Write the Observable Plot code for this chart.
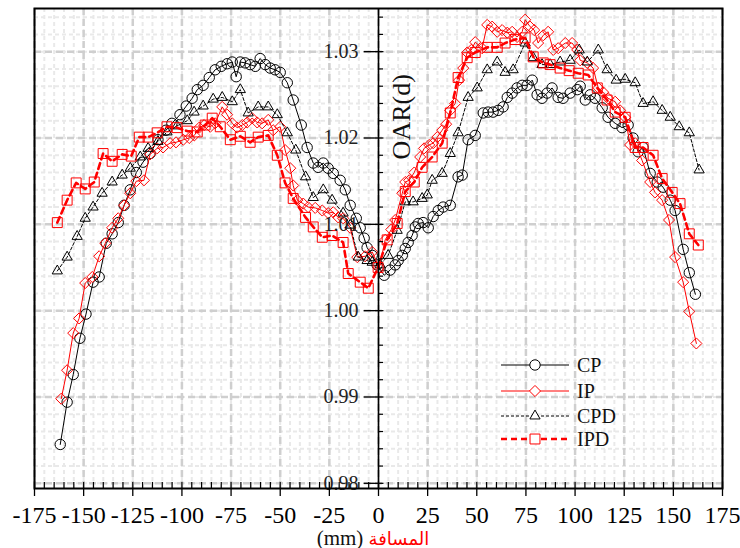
<!DOCTYPE html>
<html><head><meta charset="utf-8">
<script src="https://cdn.jsdelivr.net/npm/d3@7"></script>
<script src="https://cdn.jsdelivr.net/npm/@observablehq/plot@0.6"></script>
<style>body{margin:0;background:#fff} svg{display:block}</style>
</head><body><div id="chart"></div>
<script>
// ---- tick values ----
const xMajorTicks = [-175,-150,-125,-100,-75,-50,-25,0,25,50,75,100,125,150,175];
const yMajorTicks = [0.98,0.99,1.00,1.01,1.02,1.03];
const yDomain = [0.9794, 1.035];
const seriesNames = ["CP","IP","CPD","IPD"];

// ---- CP ----
const cpX = [-161.9,-158.4,-155.3,-151.9,-148.8,-145.2,-142.1,-138.5,-135.5,
-132.4,-129.4,-126.3,-123.2,-119.8,-116.2,-112.2,-108.1,-105.1,-101.0,
-97.8,-94.8,-92.2,-89.2,-86.1,-83.1,-80.0,-77.0,-74.4,-72.4,
-70.3,-67.8,-65.3,-62.7,-60.2,-57.6,-55.1,-52.6,-50.0,-46.4,
-43.4,-39.3,-36.3,-33.2,-30.7,-28.1,-25.6,-23.0,-19.5,-16.9,
-14.4,-11.3,-9.3,-7.3,-5.8,-3.2,-0.7,2.9,5.9,8.5,
10.0,12.1,13.6,15.1,17.1,18.7,20.2,22.7,25.3,27.8,
30.4,32.9,36.5,40.5,42.6,45.6,49.2,53.3,55.8,58.3,
60.9,63.4,65.5,68.0,70.5,73.1,75.6,78.2,80.7,83.2,
85.8,88.3,91.4,93.9,97.5,101.1,102.6,105.2,107.7,110.2,
113.8,116.8,120.4,123.9,127.0,129.5,132.1,134.6,138.2,141.8,
144.8,148.4,150.9,155.0,158.1,161.2];
const cpY = [0.9845,0.9894,0.9926,0.9968,0.9996,1.0033,1.0039,1.0078,1.0089,
1.0102,1.0122,1.0140,1.0160,1.0172,1.0182,1.0198,1.0209,1.0217,1.0227,
1.0237,1.0246,1.0256,1.0261,1.0270,1.0279,1.0283,1.0286,1.0288,1.0271,
1.0288,1.0287,1.0285,1.0283,1.0292,1.0285,1.0281,1.0279,1.0276,1.0264,
1.0244,1.0215,1.0189,1.0171,1.0166,1.0171,1.0165,1.0159,1.0151,1.0140,
1.0122,1.0107,1.0096,1.0084,1.0073,1.0064,1.0053,1.0041,1.0047,1.0053,
1.0058,1.0064,1.0072,1.0079,1.0087,1.0097,1.0101,1.0102,1.0096,1.0109,
1.0116,1.0120,1.0122,1.0155,1.0157,1.0198,1.0203,1.0229,1.0230,1.0230,
1.0232,1.0236,1.0247,1.0252,1.0258,1.0261,1.0261,1.0267,1.0250,1.0246,
1.0252,1.0258,1.0247,1.0246,1.0252,1.0256,1.0260,1.0244,1.0250,1.0246,
1.0235,1.0224,1.0217,1.0212,1.0215,1.0200,1.0184,1.0189,1.0159,1.0149,
1.0143,1.0128,1.0116,1.0071,1.0044,1.0019];

// ---- IP ----
const ipX = [-161.4,-158.4,-155.3,-152.3,-149.2,-145.6,-142.1,-139.0,-135.5,-132.4,
-129.4,-126.3,-123.2,-119.3,-116.2,-112.6,-109.6,-106.0,-103.0,-99.3,
-96.3,-93.7,-91.2,-88.7,-85.6,-83.1,-79.5,-77.0,-74.4,-71.9,
-69.3,-66.8,-64.3,-61.7,-59.2,-56.1,-53.6,-50.0,-47.5,-44.9,
-43.4,-41.3,-38.3,-35.8,-32.2,-28.6,-25.6,-23.0,-20.5,-18.0,
-14.4,-10.8,-6.8,-3.2,0.4,3.4,6.5,8.5,12.1,13.6,
15.6,18.2,21.2,23.2,25.8,27.8,29.9,32.4,34.4,36.5,
39.0,41.0,43.1,45.1,47.2,49.2,52.7,55.3,57.8,60.4,
62.9,65.5,68.0,70.5,73.1,74.6,77.1,79.2,81.2,83.8,
86.3,88.9,91.4,95.0,98.5,101.1,102.6,106.2,109.2,111.8,
114.3,116.8,120.4,122.9,125.5,128.0,130.6,134.1,138.2,140.7,
144.3,147.8,150.9,155.0,158.1,161.7];
const ipY = [0.9898,0.9931,0.9974,0.9991,1.0032,1.0039,1.0063,1.0078,1.0096,1.0107,
1.0122,1.0136,1.0150,1.0151,1.0181,1.0188,1.0189,1.0194,1.0195,1.0198,
1.0200,1.0203,1.0212,1.0215,1.0213,1.0217,1.0236,1.0227,1.0217,1.0212,
1.0215,1.0218,1.0223,1.0218,1.0217,1.0221,1.0209,1.0213,1.0186,1.0165,
1.0145,1.0128,1.0124,1.0120,1.0119,1.0116,1.0113,1.0114,1.0108,1.0107,
1.0096,1.0062,1.0063,1.0068,1.0050,1.0082,1.0094,1.0105,1.0136,1.0149,
1.0151,1.0160,1.0178,1.0188,1.0192,1.0194,1.0201,1.0209,1.0216,1.0232,
1.0240,1.0267,1.0281,1.0299,1.0302,1.0311,1.0304,1.0331,1.0329,1.0323,
1.0325,1.0322,1.0323,1.0317,1.0323,1.0337,1.0329,1.0325,1.0310,1.0319,
1.0323,1.0302,1.0304,1.0310,1.0310,1.0302,1.0290,1.0287,1.0281,1.0258,
1.0253,1.0246,1.0242,1.0232,1.0224,1.0192,1.0194,1.0174,1.0149,1.0137,
1.0128,1.0105,1.0062,1.0033,0.9999,0.9962];

// ---- CPD ----
const cpdX = [-163.4,-158.4,-153.3,-149.2,-145.2,-140.6,-135.5,-130.4,-126.3,-121.2,
-117.2,-112.2,-107.6,-102.5,-97.3,-93.8,-89.2,-84.1,-79.5,-74.4,
-70.3,-66.3,-61.2,-56.1,-51.5,-46.4,-42.1,-37.1,-33.2,-28.1,
-23.6,-18.0,-14.4,-10.3,-5.8,-3.2,0.9,4.9,9.5,13.6,
17.6,22.2,24.8,27.3,32.4,36.5,40.5,45.6,50.2,55.3,
60.4,64.4,68.5,74.6,78.7,83.2,87.3,92.4,97.5,102.1,
106.2,111.8,116.3,120.9,125.5,130.6,134.6,139.7,144.3,148.4,
153.0,158.1,163.1];
const cpdY = [1.0046,1.0062,1.0086,1.0107,1.0120,1.0136,1.0149,1.0157,1.0165,1.0178,
1.0188,1.0196,1.0207,1.0214,1.0220,1.0230,1.0237,1.0245,1.0247,1.0242,
1.0256,1.0229,1.0236,1.0236,1.0227,1.0206,1.0186,1.0155,1.0131,1.0140,
1.0128,1.0113,1.0099,1.0062,1.0058,1.0056,1.0053,1.0064,1.0093,1.0126,
1.0126,1.0130,1.0134,1.0151,1.0159,1.0182,1.0206,1.0247,1.0258,1.0279,
1.0288,1.0276,1.0279,1.0310,1.0293,1.0285,1.0285,1.0288,1.0290,1.0302,
1.0288,1.0302,1.0279,1.0267,1.0268,1.0264,1.0240,1.0242,1.0232,1.0224,
1.0213,1.0206,1.0163];

// ---- IPD ----
const ipdX = [-163.4,-158.4,-153.8,-149.2,-144.6,-140.1,-135.5,-130.4,-125.8,-121.7,
-117.2,-112.6,-107.6,-102.5,-97.3,-92.2,-88.2,-84.6,-80.5,-75.4,
-70.3,-65.3,-61.2,-56.1,-51.5,-47.5,-43.4,-37.1,-33.2,-28.6,
-23.6,-18.0,-15.4,-9.3,-5.2,-0.2,4.4,9.5,13.6,18.2,
22.2,27.3,32.4,36.5,40.5,45.1,49.2,55.3,60.4,64.4,
69.5,74.6,78.7,83.8,87.3,92.4,97.0,101.6,106.7,111.3,
116.3,120.4,125.5,130.6,134.6,139.7,144.3,149.4,153.4,158.1,
162.7];
const ipdY = [1.0102,1.0128,1.0148,1.0141,1.0149,1.0182,1.0173,1.0181,1.0179,1.0201,
1.0201,1.0206,1.0213,1.0212,1.0208,1.0207,1.0215,1.0223,1.0213,1.0198,
1.0202,1.0195,1.0201,1.0203,1.0180,1.0148,1.0130,1.0108,1.0097,1.0085,
1.0087,1.0079,1.0043,1.0033,1.0026,1.0050,1.0082,1.0101,1.0138,1.0149,
1.0166,1.0178,1.0194,1.0229,1.0270,1.0293,1.0299,1.0305,1.0305,1.0310,
1.0314,1.0316,1.0294,1.0287,1.0285,1.0281,1.0278,1.0275,1.0273,1.0258,
1.0244,1.0230,1.0224,1.0189,1.0189,1.0180,1.0153,1.0137,1.0124,1.0089,
1.0076];

const toRows = (xs, ys) => xs.map((x, i) => ({x, y: ys[i]}));
const cp = toRows(cpX, cpY), ip = toRows(ipX, ipY), cpd = toRows(cpdX, cpdY), ipd = toRows(ipdX, ipdY);

const xMinorTicks = d3.range(-175, 176, 5);
const yMinorTicks = d3.range(0, 28).map(i => +(0.98 + i * 0.002).toFixed(3));

const serif = "'Liberation Serif', 'Times New Roman', serif";
const styles = [
  {data: cp,  stroke: "#000", width: 1,   dash: null,  symbol: "circle",   r: 5.2},
  {data: ip,  stroke: "#ff0000", width: 1, dash: null, symbol: "diamond2", r: 5},
  {data: cpd, stroke: "#000", width: 1,   dash: "3,2", symbol: "triangle", r: 3.8},
  {data: ipd, stroke: "#ff0000", width: 2.6, dash: "6,4", symbol: "square", r: 5.6}
];

const marks = [
  Plot.gridX(xMinorTicks, {stroke: "#e9e9e9", strokeOpacity: 1, strokeWidth: 2, strokeDasharray: "4,3"}),
  Plot.gridY(yMinorTicks, {stroke: "#e9e9e9", strokeOpacity: 1, strokeWidth: 2, strokeDasharray: "4,3"}),
  Plot.gridX(xMajorTicks, {stroke: "#cfcfcf", strokeOpacity: 1, strokeWidth: 2.5, strokeDasharray: "7,4"}),
  Plot.gridY(yMajorTicks, {stroke: "#cfcfcf", strokeOpacity: 1, strokeWidth: 2.5, strokeDasharray: "7,4"}),
];
for (const s of styles) {
  marks.push(Plot.line(s.data, {x: "x", y: "y", stroke: s.stroke, strokeWidth: s.width, strokeDasharray: s.dash || undefined}));
  marks.push(Plot.dot(s.data, {x: "x", y: "y", symbol: s.symbol, r: s.r, stroke: s.stroke, fill: "none", strokeWidth: 1}));
}
marks.push(
  Plot.ruleX([0], {stroke: "#000", strokeWidth: 1.6}),
  Plot.ruleY(yMajorTicks, {x1: -7.3, x2: 2.8, stroke: "#000", strokeWidth: 1.3}),
  Plot.ruleY(yMinorTicks.filter(v => !yMajorTicks.some(m => Math.abs(m - v) < 1e-9)), {x1: 0, x2: 2.6, stroke: "#000", strokeWidth: 1.2}),
  Plot.text(yMajorTicks, {x: 0, y: d => d, text: d => d.toFixed(2), dx: -20, textAnchor: "end", fontSize: 20, fontFamily: serif, fill: "#222"}),
  Plot.ruleX(xMinorTicks, {y1: yDomain[0], y2: yDomain[0] + 0.0007, stroke: "#000", strokeWidth: 1.2}),
  Plot.axisX(xMajorTicks, {tickSize: 8, tickPadding: 9, fontSize: 24, fontFamily: serif, tickFormat: d => String(d), strokeWidth: 1.3, label: null}),
  Plot.frame({stroke: "#000", strokeWidth: 2})
);

const plot = Plot.plot({
  width: 740, height: 548,
  marginLeft: 34, marginRight: 18, marginTop: 8, marginBottom: 60,
  style: {fontFamily: serif, fontSize: "20px", background: "#fff", color: "#000"},
  x: {domain: [-175, 175], axis: null},
  y: {domain: yDomain, axis: null},
  marks
});

const svg = d3.select(plot);
const xs = plot.scale("x"), ys = plot.scale("y");
const x0 = xs.apply(0);

// y-axis title
svg.append("text")
  .attr("transform", `translate(${x0 + 32},${ys.apply(1.0224)}) rotate(-90)`)
  .attr("text-anchor", "middle")
  .attr("font-family", serif).attr("font-size", 26).attr("fill", "#111")
  .text("OAR(d)");

// x-axis title
const xt = svg.append("text")
  .attr("x", x0 - 5).attr("y", 544.5)
  .attr("text-anchor", "middle")
  .attr("font-size", 21);
xt.append("tspan").attr("font-family", serif).attr("fill", "#111").text("(mm) ");
xt.append("tspan").attr("font-family", "'DejaVu Sans', sans-serif").attr("font-size", 18).attr("fill", "#ff0000").text("المسافة");

// legend
const legRows = [365, 391, 416, 439];
const lg = svg.append("g");
styles.forEach((s, i) => {
  const y = legRows[i];
  lg.append("line").attr("x1", 501).attr("x2", 569).attr("y1", y).attr("y2", y)
    .attr("stroke", s.stroke).attr("stroke-width", s.width)
    .attr("stroke-dasharray", s.dash || null);
  const symType = {circle: d3.symbolCircle, diamond2: d3.symbolDiamond2, triangle: d3.symbolTriangle, square: d3.symbolSquare}[s.symbol];
  lg.append("path").attr("d", d3.symbol(symType, Math.PI * s.r * s.r)())
    .attr("transform", `translate(535,${y})`)
    .attr("fill", "#fff").attr("stroke", s.stroke).attr("stroke-width", 1);
  lg.append("text").attr("x", 577).attr("y", y).attr("dy", "0.35em")
    .attr("text-anchor", "start")
    .attr("font-family", serif).attr("font-size", 20).attr("fill", "#111")
    .text(seriesNames[i]);
});

document.getElementById("chart").appendChild(plot);
</script>
</body></html>
